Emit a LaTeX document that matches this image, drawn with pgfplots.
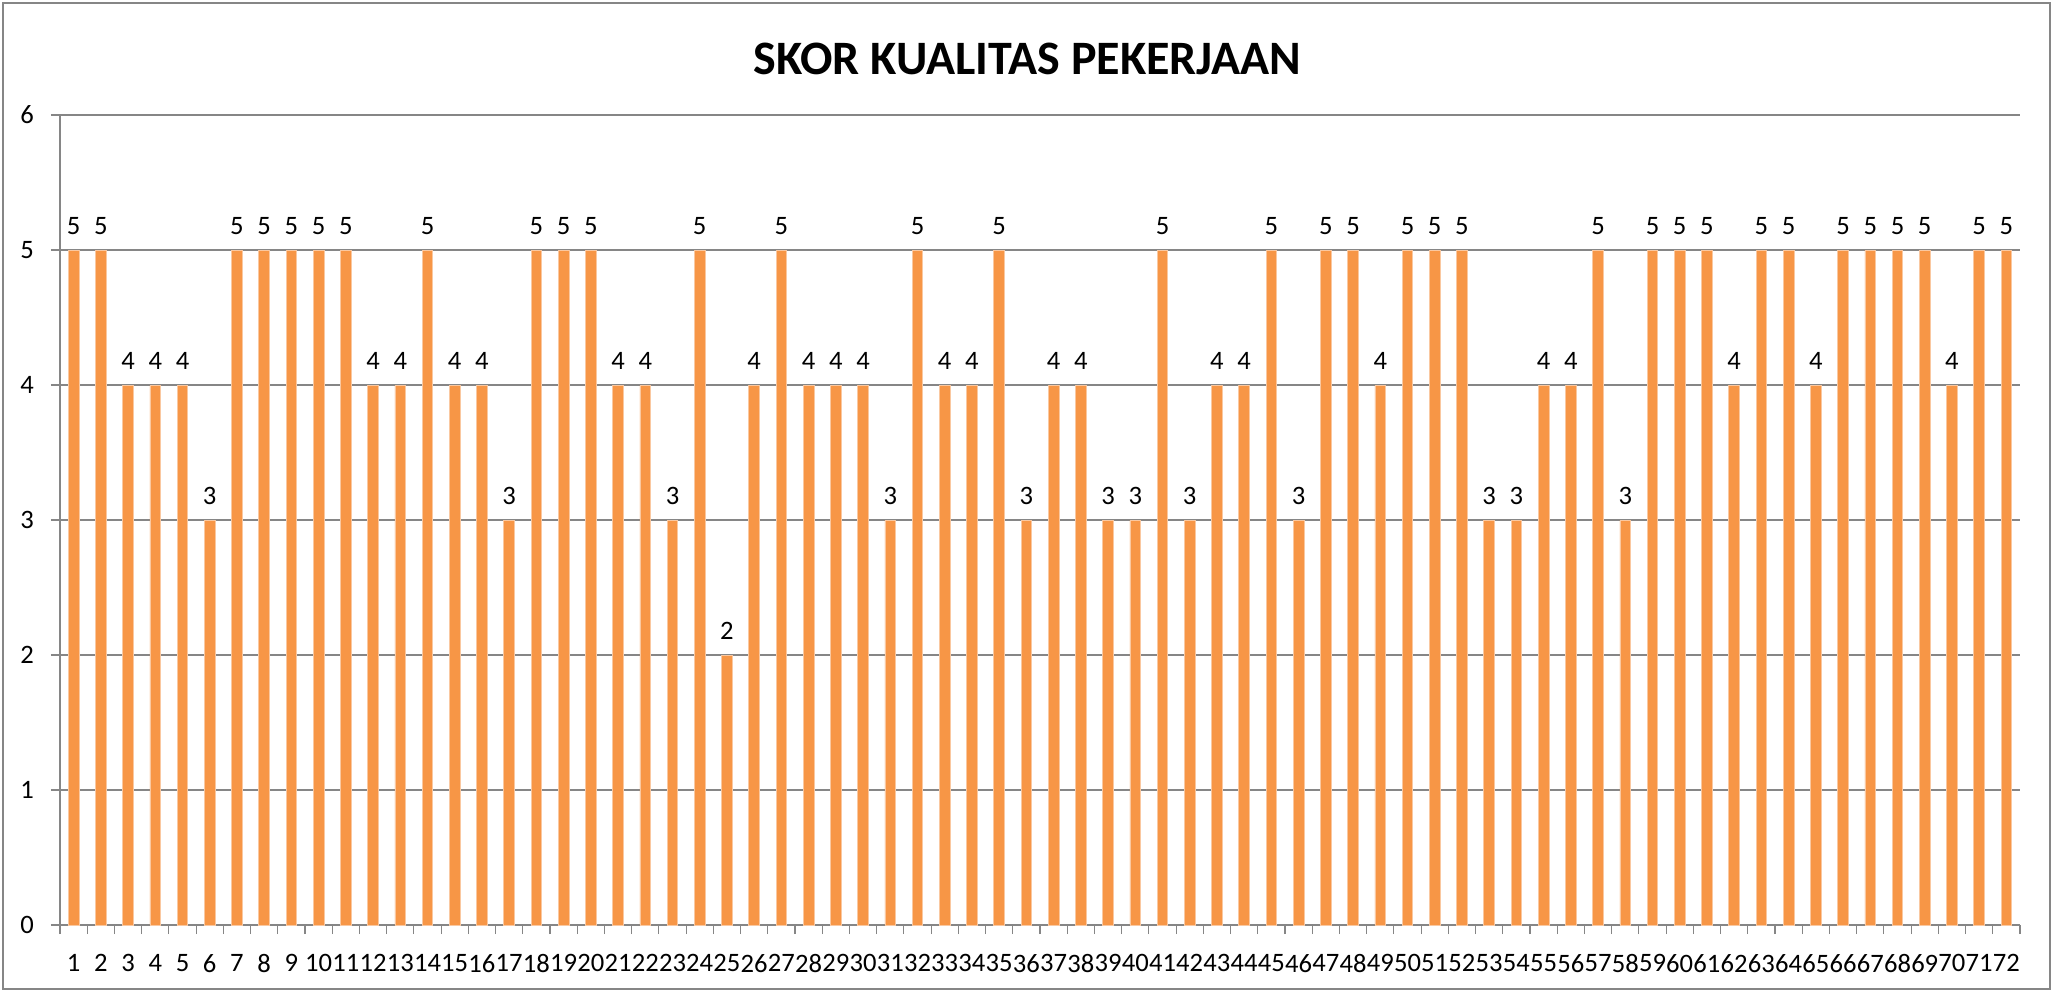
\documentclass[border=0pt]{standalone}
\usepackage{pgfplots}
\pgfplotsset{compat=1.18}
\usepackage{fontspec}
\setmainfont{Carlito}
\definecolor{barorange}{HTML}{F79646}
\definecolor{gridgray}{HTML}{868686}
\begin{document}
\begin{tikzpicture}
\path[use as bounding box] (0,0) rectangle (1027.5pt,496pt);
\draw[gridgray,line width=0.8pt] (1.5pt,1.5pt) rectangle (1025pt,494.5pt);
\node[font=\fontsize{24}{28}\selectfont\bfseries] at (513.75pt,466.5pt) {SKOR KUALITAS PEKERJAAN};
\begin{axis}[
  at={(30pt,33.5pt)}, anchor=south west,
  scale only axis, width=980pt, height=405pt,
  xmin=0.5, xmax=72.5, ymin=0, ymax=6,
  ytick={0,1,...,6},
  xtick={1,...,72},
  minor xtick={0.5,1.5,...,72.5},
  major x tick style={draw=none},
  minor x tick style={gridgray, line width=0.6pt},
  y tick style={gridgray, line width=0.6pt},
  minor tick length=4.5pt,
  major tick length=4.5pt,
  tick align=outside,
  xtick pos=bottom, ytick pos=left,
  axis x line*=bottom, axis y line*=left,
  axis line style={gridgray, line width=0.8pt, -},
  ymajorgrids, grid style={gridgray, line width=0.6pt},
  tick label style={font=\fontsize{13.3}{15}\selectfont},
  xticklabel style={yshift=-6.5pt},
  yticklabel style={xshift=-5pt},
  /pgf/number format/assume math mode=true,
  ybar, bar width=0.39,
  nodes near coords,
  every node near coord/.append style={font=\fontsize{13.3}{15}\selectfont, yshift=4pt, black},
]
\addplot[fill=barorange, draw={rgb,255:red,250;green,200;blue,160}, line width=0.4pt] coordinates {
(1,5) (2,5) (3,4) (4,4) (5,4) (6,3) (7,5) (8,5) (9,5) (10,5)
(11,5) (12,4) (13,4) (14,5) (15,4) (16,4) (17,3) (18,5) (19,5) (20,5)
(21,4) (22,4) (23,3) (24,5) (25,2) (26,4) (27,5) (28,4) (29,4) (30,4)
(31,3) (32,5) (33,4) (34,4) (35,5) (36,3) (37,4) (38,4) (39,3) (40,3)
(41,5) (42,3) (43,4) (44,4) (45,5) (46,3) (47,5) (48,5) (49,4) (50,5)
(51,5) (52,5) (53,3) (54,3) (55,4) (56,4) (57,5) (58,3) (59,5) (60,5)
(61,5) (62,4) (63,5) (64,5) (65,4) (66,5) (67,5) (68,5) (69,5) (70,4)
(71,5) (72,5)
};
\end{axis}
\end{tikzpicture}
\end{document}
